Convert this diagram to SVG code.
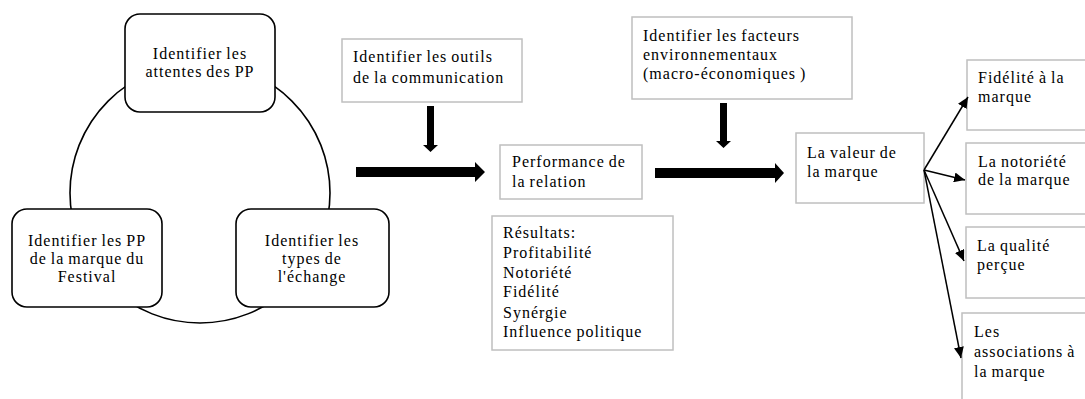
<svg xmlns="http://www.w3.org/2000/svg" width="1085" height="399" viewBox="0 0 1085 399">
<defs>
<style>
text{font-family:"Liberation Serif","Times New Roman",serif;font-size:16px;letter-spacing:1px;word-spacing:-1px;fill:#000}
.c{text-anchor:middle}
.rb{fill:#fff;stroke:#000;stroke-width:1.6}
.gb{fill:#fff;stroke:#bfbfbf;stroke-width:1.5}
.thin{stroke:#000;stroke-width:1.5;fill:none;marker-end:url(#ah)}
.fat{fill:#000;stroke:none}
</style>
<marker id="ah" markerUnits="userSpaceOnUse" markerWidth="12" markerHeight="10" refX="11" refY="5" orient="auto">
<path d="M0,0 L11,5 L0,10 Z" fill="#000"/>
</marker>
</defs>
<rect width="1085" height="399" fill="#fff"/>
<g id="cycle">
<circle cx="200" cy="193" r="130" fill="none" stroke="#000" stroke-width="1.6"/>
</g>
<g id="node-attentes">
<rect class="rb" x="125" y="14" width="150" height="98" rx="15"/>
<text class="c" x="200" y="59">Identifier les</text>
<text class="c" x="200" y="77">attentes des PP</text>
</g>
<g id="node-pp">
<rect class="rb" x="12" y="209" width="150" height="98" rx="15"/>
<text class="c" x="87" y="246">Identifier les PP</text>
<text class="c" x="87" y="264">de la marque du</text>
<text class="c" x="87" y="282">Festival</text>
</g>
<g id="node-echange">
<rect class="rb" x="236" y="209" width="153" height="98" rx="15"/>
<text class="c" x="312" y="246">Identifier les</text>
<text class="c" x="312" y="264">types de</text>
<text class="c" x="312" y="282">l'échange</text>
</g>
<g id="node-outils">
<rect class="gb" x="342" y="39" width="180" height="63"/>
<text x="353" y="62">Identifier les outils</text>
<text x="353" y="83">de la communication</text>
</g>
<g id="node-performance">
<rect class="gb" x="500" y="145" width="142" height="54"/>
<text x="512" y="167">Performance de</text>
<text x="512" y="187">la relation</text>
</g>
<g id="node-resultats">
<rect class="gb" x="492" y="216" width="181" height="134"/>
<text x="503" y="238">Résultats:</text>
<text x="503" y="258">Profitabilité</text>
<text x="503" y="278">Notoriété</text>
<text x="503" y="297">Fidélité</text>
<text x="503" y="318">Synérgie</text>
<text x="503" y="337">Influence politique</text>
</g>
<g id="node-facteurs">
<rect class="gb" x="632" y="17" width="220" height="82"/>
<text x="643" y="41">Identifier les facteurs</text>
<text x="643" y="60">environnementaux</text>
<text x="643" y="79">(macro-économiques )</text>
</g>
<g id="node-valeur">
<rect class="gb" x="796" y="133" width="128" height="70"/>
<text x="807" y="158">La valeur de</text>
<text x="807" y="177">la marque</text>
</g>
<g id="node-fidelite">
<rect class="gb" x="967" y="60" width="125" height="70"/>
<text x="978" y="83">Fidélité à la</text>
<text x="978" y="102">marque</text>
</g>
<g id="node-notoriete">
<rect class="gb" x="966" y="143" width="125" height="71"/>
<text x="978" y="167">La notoriété</text>
<text x="978" y="185">de la marque</text>
</g>
<g id="node-qualite">
<rect class="gb" x="966" y="227" width="125" height="71"/>
<text x="977" y="251">La qualité</text>
<text x="977" y="270">perçue</text>
</g>
<g id="node-associations">
<rect class="gb" x="962" y="313" width="130" height="95"/>
<text x="974" y="337">Les</text>
<text x="974" y="357">associations à</text>
<text x="974" y="377">la marque</text>
</g>
<g id="connectors">
<polygon class="fat" points="356,167 475,167 475,162 485,172 475,182 475,177 356,177"/>
<polygon class="fat" points="655,168 775,168 775,163 784,173 775,183 775,178 655,178"/>
<polygon class="fat" points="427,106 434,106 434,145 438,145 430.5,152 423,145 427,145"/>
<polygon class="fat" points="720,103 727,103 727,141 731,141 723.5,148 716,141 720,141"/>
<line class="thin" x1="924" y1="170" x2="968" y2="97"/>
<line class="thin" x1="924" y1="170" x2="965" y2="180"/>
<line class="thin" x1="924" y1="170" x2="964" y2="261"/>
<line class="thin" x1="924" y1="170" x2="961" y2="358"/>
</g>
</svg>
